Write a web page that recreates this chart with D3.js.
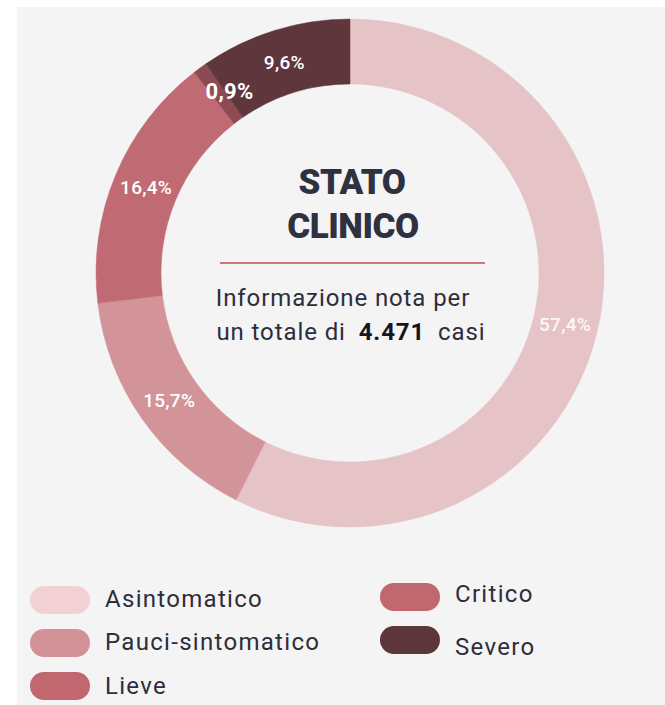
<!DOCTYPE html>
<html>
<head>
<meta charset="utf-8">
<script src="https://cdn.jsdelivr.net/npm/d3@7"></script>
<style>
	body { margin: 0; background: #fff; }
	svg { display: block; font-family: Roboto, sans-serif; }
</style>
</head>
<body>
<svg id="chart" width="665" height="705"></svg>
<script>
// Stato clinico donut.
var categories = ['Asintomatico', 'Pauci-sintomatico', 'Lieve', 'Critico', 'Severo'];
var values = [57.4, 15.7, 16.4, 0.9, 9.6];
var labels = ['57,4%', '15,7%', '16,4%', '0,9%', '9,6%'];
var sliceColors = ['#e5c3c6', '#d29499', '#c06b74', '#8d4a53', '#5e363b'];
var legendColors = ['#f2d0d3', '#d29196', '#c0676f', '#c0676f', '#5d363b'];
var totalCases = '4.471';

var svg = d3.select('#chart');

// Grey panel behind everything.
svg.append('rect')
	.attr('x', 17).attr('y', 7)
	.attr('width', 648).attr('height', 698)
	.attr('fill', '#f4f4f4');

var cx = 350, cy = 273;
var outerR = 254, innerR = 189;

var pie = d3.pie().sort(null).value(function(d) { return d.value; });
var arc = d3.arc().innerRadius(innerR).outerRadius(outerR);
var labelArc = d3.arc().innerRadius(221).outerRadius(221);

var data = categories.map(function(c, i) {
	return { name: c, value: values[i], label: labels[i], color: sliceColors[i] };
});

var g = svg.append('g').attr('transform', 'translate(' + cx + ',' + cy + ')');

g.selectAll('path.slice')
	.data(pie(data))
	.enter().append('path')
	.attr('class', 'slice')
	.attr('d', arc)
	.attr('fill', function(d) { return d.data.color; })
	.attr('stroke', function(d) { return d.data.color; })
	.attr('stroke-width', 0.5);

g.selectAll('text.pct')
	.data(pie(data))
	.enter().append('text')
	.attr('class', 'pct')
	.attr('transform', function(d) {
		var c = labelArc.centroid(d);
		// The tiny slice label sits a little to the right.
		if (d.data.name === 'Critico') { c[0] += 10; c[1] -= 3; }
		return 'translate(' + c[0] + ',' + c[1] + ')';
	})
	.attr('text-anchor', 'middle')
	.attr('dy', '0.35em')
	.attr('fill', '#fff')
	.attr('fill-opacity', function(d) { return d.data.name === 'Asintomatico' ? 0.9 : 1; })
	.attr('font-weight', function(d) { return d.data.name === 'Critico' ? 700 : 500; })
	.attr('font-size', function(d) { return d.data.name === 'Critico' ? 22 : 19; })
	.attr('letter-spacing', 0.3)
	.text(function(d) { return d.data.label; });

// Centre text.
var title = svg.append('g').attr('fill', '#2f3140').attr('font-weight', 900)
	.attr('font-size', 35).attr('text-anchor', 'middle');
title.append('text').attr('x', cx + 2).attr('y', 194).attr('letter-spacing', -0.5).text('STATO');
title.append('text').attr('x', cx + 3).attr('y', 238).attr('letter-spacing', -0.5).text('CLINICO');

svg.append('line')
	.attr('x1', 220).attr('x2', 485)
	.attr('y1', 263).attr('y2', 263)
	.attr('stroke', '#cc7580').attr('stroke-width', 2);

svg.append('text')
	.attr('x', 343).attr('y', 306)
	.attr('text-anchor', 'middle')
	.attr('font-size', 24).attr('letter-spacing', 0.9).attr('fill', '#2d2d3c')
	.text('Informazione nota per');

var line2 = svg.append('text')
	.attr('x', 351).attr('y', 340)
	.attr('text-anchor', 'middle')
	.attr('font-size', 24).attr('letter-spacing', 0.9).attr('fill', '#2d2d3c')
	.attr('xml:space', 'preserve');
line2.append('tspan').text('un totale di ');
line2.append('tspan').attr('dx', 6).attr('font-weight', 700).attr('fill', '#15151f').text(totalCases);
line2.append('tspan').attr('dx', 6).text(' casi');

// Legend in two columns.
var legendPos = [
	{ x: 30, y: 600, ty: 607 },
	{ x: 30, y: 643, ty: 650 },
	{ x: 30, y: 686, ty: 694 },
	{ x: 380, y: 597, ty: 602 },
	{ x: 380, y: 640, ty: 655 }
];

var legend = svg.selectAll('g.legend')
	.data(categories)
	.enter().append('g')
	.attr('class', 'legend');

legend.append('rect')
	.attr('x', function(d, i) { return legendPos[i].x; })
	.attr('y', function(d, i) { return legendPos[i].y - 14; })
	.attr('width', 60).attr('height', 28)
	.attr('rx', 14)
	.attr('fill', function(d, i) { return legendColors[i]; });

legend.append('text')
	.attr('x', function(d, i) { return legendPos[i].x + 75; })
	.attr('y', function(d, i) { return legendPos[i].ty; })
	.attr('font-size', 24)
	.attr('letter-spacing', 1.3)
	.attr('fill', '#2d2d3c')
	.text(function(d) { return d; });
</script>
</body>
</html>
